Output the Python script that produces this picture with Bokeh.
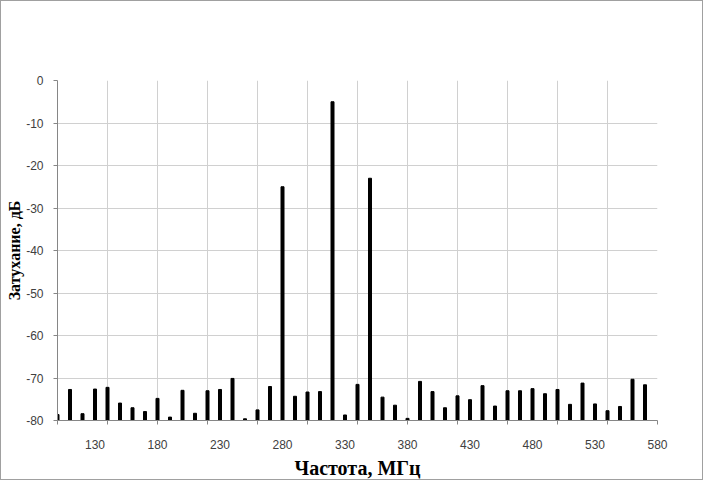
from bokeh.plotting import figure
from bokeh.models import Range1d, FixedTicker, LinearAxis
from bokeh.embed import file_html
from bokeh.resources import INLINE

# Data
freq = [100, 110, 120, 130, 140, 150, 160, 170, 180, 190,
        200, 210, 220, 230, 240, 250, 260, 270, 280, 290,
        300, 310, 320, 330, 340, 350, 360, 370, 380, 390,
        400, 410, 420, 430, 440, 450, 460, 470, 480, 490,
        500, 510, 520, 530, 540, 550, 560, 570]
atten = [-78.6, -72.7, -78.4, -72.6, -72.2, -75.9, -77.0, -77.9, -74.8, -79.2,
         -72.9, -78.3, -73.0, -72.7, -70.1, -79.6, -77.5, -72.0, -25.0, -74.3,
         -73.3, -73.2, -5.0, -78.7, -71.5, -23.0, -74.5, -76.4, -79.5, -70.8,
         -73.2, -77.0, -74.2, -75.1, -71.8, -76.6, -73.0, -73.0, -72.5, -73.7,
         -72.7, -76.2, -71.2, -76.1, -77.7, -76.7, -70.3, -71.6]
x_label_ticks = [130, 180, 230, 280, 330, 380, 430, 480, 530, 580]
x_grid_ticks = [100, 140, 180, 220, 260, 300, 340, 380, 420, 460, 500, 540, 580]
y_ticks = [0, -10, -20, -30, -40, -50, -60, -70, -80]
x_title = "Частота, МГц"
y_title = "Затухание, дБ"

AXIS = "#868686"
GRID = "#d0d0d0"
TXT = "#404040"
TICK_FONT = "Liberation Sans"

p = figure(width=703, height=480, output_backend="svg", toolbar_location=None,
           x_range=Range1d(100, 580), y_range=Range1d(-80, 0),
           min_border_left=56, min_border_right=47, min_border_top=79,
           min_border_bottom=58)
p.styles = {"border": "1px solid #a0a0a0"}
p.outline_line_color = None
p.background_fill_color = "white"
p.border_fill_color = "white"

# grids
p.xgrid.ticker = FixedTicker(ticks=x_grid_ticks)
p.ygrid.ticker = FixedTicker(ticks=y_ticks)
p.xgrid.grid_line_color = GRID
p.ygrid.grid_line_color = GRID

# x axis 1: tick marks at gridlines, no labels
ax1 = p.xaxis[0]
ax1.ticker = FixedTicker(ticks=x_grid_ticks)
ax1.major_label_overrides = {t: "" for t in x_grid_ticks}
ax1.major_label_text_font_size = "1px"
ax1.major_label_standoff = 0
ax1.axis_line_color = AXIS
ax1.major_tick_line_color = AXIS
ax1.major_tick_in = 0
ax1.major_tick_out = 4
ax1.minor_tick_line_color = None

# x axis 2: labels only
ax2 = LinearAxis(ticker=FixedTicker(ticks=x_label_ticks))
ax2.axis_line_color = None
ax2.major_tick_line_color = None
ax2.minor_tick_line_color = None
ax2.major_label_standoff = 9
ax2.major_label_text_font = TICK_FONT
ax2.major_label_text_font_size = "12px"
ax2.major_label_text_color = TXT
ax2.axis_label = x_title
ax2.axis_label_standoff = 5
ax2.axis_label_text_font = "Liberation Serif"
ax2.axis_label_text_font_style = "bold"
ax2.axis_label_text_font_size = "20px"
ax2.axis_label_text_color = "black"
p.add_layout(ax2, "below")

# y axis
ay = p.yaxis[0]
ay.ticker = FixedTicker(ticks=y_ticks)
ay.major_label_overrides = {t: str(t) for t in y_ticks}
ay.axis_line_color = AXIS
ay.major_tick_line_color = AXIS
ay.major_tick_in = 0
ay.major_tick_out = 4
ay.minor_tick_line_color = None
ay.major_label_standoff = 10
ay.major_label_text_font = TICK_FONT
ay.major_label_text_font_size = "12px"
ay.major_label_text_color = TXT
ay.axis_label = y_title
ay.axis_label_standoff = 0
ay.axis_label_text_font = "Liberation Serif"
ay.axis_label_text_font_style = "bold"
ay.axis_label_text_font_size = "16px"
ay.axis_label_text_color = "black"

p.vbar(x=freq, top=atten, bottom=-80, width=2.4, color="black")

open("out.html", "w").write(file_html(p, INLINE))
